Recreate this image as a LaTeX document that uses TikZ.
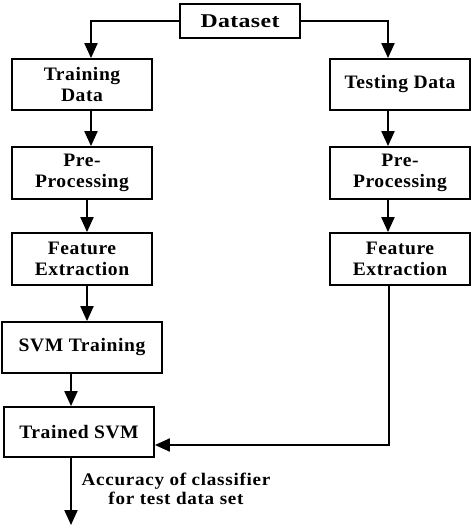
\documentclass[tikz,border=0pt]{standalone}
\usepackage{fontspec}
\setmainfont{Liberation Serif}[LetterSpace=3, FakeStretch=1.03]
\newfontfamily\dsfont{Liberation Serif}[FakeStretch=1.22, LetterSpace=2]
\newfontfamily\lblfont{Liberation Serif}[FakeStretch=1.08, LetterSpace=4]
\usetikzlibrary{arrows.meta}
\tikzset{
  box/.style={draw=black, line width=1.8pt, fill=white, align=center, inner sep=0pt,
    font=\fontsize{19}{20.5}\selectfont\bfseries},
  arr/.style={line width=2pt, -{Triangle[width=13pt,length=15pt]}},
  lbl/.style={align=center, font=\lblfont\fontsize{17.7}{19}\selectfont\bfseries}
}
\begin{document}
\begin{tikzpicture}[x=1pt,y=-1pt]
\fill[white] (0,0) rectangle (474,530);
\useasboundingbox (0,0) rectangle (474,530);
\node[box, minimum width=120pt, minimum height=34pt, font=\dsfont\fontsize{19.5}{21}\selectfont\bfseries] (ds) at (240,21) {Dataset};
\node[box, minimum width=140pt, minimum height=51pt] (tr) at (82,84.5) {Training\\Data};
\node[box, minimum width=140pt, minimum height=51pt] (te) at (400,84.5) {Testing Data};
\node[box, minimum width=140pt, minimum height=52pt] (prl) at (82,173) {Pre-\\Processing};
\node[box, minimum width=140pt, minimum height=52pt] (prr) at (400,173) {Pre-\\Processing};
\node[box, minimum width=140pt, minimum height=52pt] (fel) at (82,259) {Feature\\Extraction};
\node[box, minimum width=140pt, minimum height=52pt] (fer) at (400,259) {Feature\\Extraction};
\node[box, minimum width=160pt, minimum height=51pt] (svm) at (82,347.5) {SVM Training};
\node[box, minimum width=150pt, minimum height=50pt] (tsv) at (79,432) {Trained SVM};
\coordinate (out) at (71,525);
\node[lbl] (acc) at (176,489) {Accuracy of classifier\\for test data set};
\draw[arr] (ds.west) -| ([xshift=9pt]tr.north);
\draw[arr] (ds.east) -| ([xshift=-12pt]te.north);
\draw[arr] ([xshift=9pt]tr.south) -- ([xshift=9pt]prl.north);
\draw[arr] ([xshift=5pt]prl.south) -- ([xshift=5pt]fel.north);
\draw[arr] ([xshift=5pt]fel.south) -- ([xshift=5pt]fel.south |- svm.north);
\draw[arr] ([xshift=-11pt]svm.south) -- ([xshift=-8pt]tsv.north);
\draw[arr] ([xshift=-8pt]tsv.south) -- (out);
\draw[arr] ([xshift=-12pt]te.south) -- ([xshift=-12pt]prr.north);
\draw[arr] ([xshift=-12pt]prr.south) -- ([xshift=-12pt]fer.north);
\draw[arr] ([xshift=-11pt]fer.south) |- ([yshift=-13pt]tsv.east);
\end{tikzpicture}
\end{document}
